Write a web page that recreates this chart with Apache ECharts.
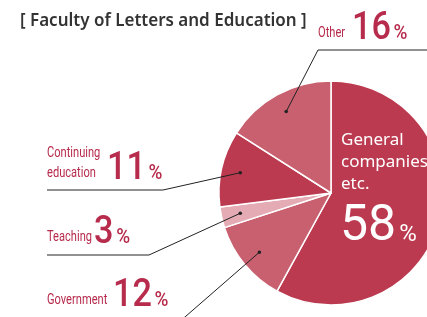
<!DOCTYPE html>
<html>
<head>
<meta charset="utf-8">
<script src="https://cdn.jsdelivr.net/npm/echarts@6/dist/echarts.min.js"></script>
<style>
html, body { margin: 0; padding: 0; background: #fff; }
#main { width: 427px; height: 317px; }
</style>
</head>
<body>
<div id="main"></div>
<script>
var titleText = '[ Faculty of Letters and Education ]';
var categories = ['General companies etc.', 'Government', 'Teaching', 'Continuing education', 'Other'];
var nameLines = [['General', 'companies', 'etc.'], ['Government'], ['Teaching'], ['Continuing', 'education'], ['Other']];
var shares = [58, 12, 3, 11, 16];
var sliceColors = ['#bc3a50', '#c8606f', '#e4abb4', '#bc3a50', '#c8606f'];

var CX = 331, CY = 193, R = 112;
var RED = '#b72b4c';
var NAME_FONT = 'Roboto, sans-serif';
var NUM_FONT = 'Roboto, sans-serif';

// label placement for the outside callouts (name box, number box, leader bend)
var callouts = {
	1: { nameX: 47, nameY: 307, numX: 113, numY: 307, elbow: [170, 330], endX: 47 },
	2: { nameX: 47, nameY: 244, numX: 94, numY: 244, elbow: [149, 255], endX: 47 },
	3: { nameX: 47, nameY: 180, numX: 107, numY: 180, elbow: [163, 190], endX: 47 },
	4: { nameX: 318, nameY: 40, numX: 352, numY: 40, elbow: [318, 50], endX: 440 }
};

var total = shares.reduce(function (a, b) { return a + b; }, 0);

function midPoint(i, rr) {
	var cum = 0;
	for (var k = 0; k < i; k++) cum += shares[k];
	var ang = (cum + shares[i] / 2) / total * Math.PI * 2;
	return [CX + Math.sin(ang) * rr, CY - Math.cos(ang) * rr];
}

function numberText(x, y, value, big, color, weight, sx, pctSize) {
	return {
		type: 'text', x: x, y: y, z: 110, scaleX: sx,
		style: {
			text: '{v|' + value + '}{p|%}',
			textVerticalAlign: 'bottom', verticalAlign: 'bottom',
			rich: {
				v: { fontFamily: NUM_FONT, fontSize: big, fontWeight: weight, fill: color, color: color, verticalAlign: 'bottom', lineHeight: big },
				p: { fontFamily: NUM_FONT, fontSize: pctSize, fontWeight: weight, fill: color, color: color, verticalAlign: 'bottom',
					padding: [0, 0, Math.round(big * 0.1), 3] }
			}
		}
	};
}

var graphics = [];

graphics.push({
	type: 'text', x: 20, y: 13, z: 110,
	style: { text: titleText, fontFamily: '"Noto Sans", sans-serif', fontSize: 17, fontWeight: 600, fill: '#333' }
});

for (var i = 1; i < shares.length; i++) {
	var c = callouts[i];
	var dot = midPoint(i, R * 0.83);
	graphics.push({
		type: 'polyline', z: 105,
		shape: { points: [dot, c.elbow, [c.endX, c.elbow[1]]] },
		style: { stroke: '#222', lineWidth: 1, fill: null }
	});
	graphics.push({
		type: 'circle', z: 106,
		shape: { cx: dot[0], cy: dot[1], r: 1.8 },
		style: { fill: '#222' }
	});
	graphics.push({
		type: 'text', x: c.nameX, y: c.nameY + 3, z: 110, scaleX: 0.74,
		style: {
			text: nameLines[i].join('\n'), fontFamily: NAME_FONT, fontSize: 15, lineHeight: 20,
			fill: RED, textVerticalAlign: 'bottom', verticalAlign: 'bottom'
		}
	});
	graphics.push(numberText(c.numX, c.numY + 8, shares[i], 38, RED, 500, 0.9, 21));
}

// the big slice keeps its label inside
graphics.push({
	type: 'text', x: 341, y: 129, z: 110,
	style: {
		text: nameLines[0].join('\n'), fontFamily: '"Noto Sans", sans-serif', fontSize: 17, lineHeight: 22,
		fill: '#fff'
	}
});
graphics.push(numberText(340, 252, shares[0], 50, '#fff', 400, 1, 24));

var myChart = echarts.init(document.getElementById('main'));
var option = {
	animation: false,
	series: [{
		type: 'pie',
		center: [CX, CY],
		radius: R,
		startAngle: 90,
		clockwise: true,
		silent: true,
		label: { show: false },
		labelLine: { show: false },
		itemStyle: { borderColor: '#fff', borderWidth: 1.5 },
		data: categories.map(function (name, i) {
			return { name: name, value: shares[i], itemStyle: { color: sliceColors[i] } };
		})
	}],
	graphic: graphics
};
myChart.setOption(option);
</script>
</body>
</html>
